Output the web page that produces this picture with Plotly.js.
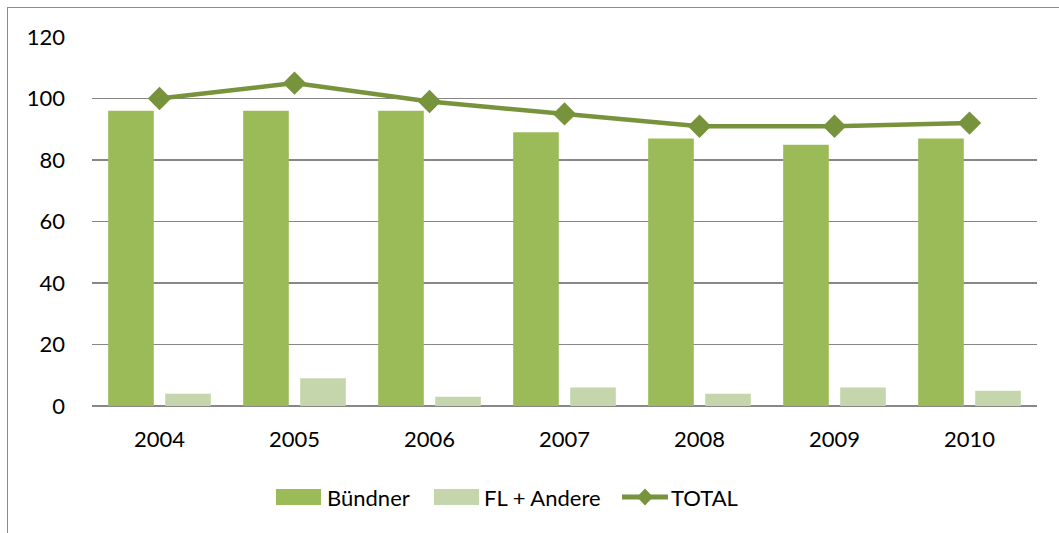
<!DOCTYPE html>
<html>
<head>
<meta charset="utf-8">
<script src="https://cdn.plot.ly/plotly-3.0.1.min.js"></script>
<style>
html,body{margin:0;padding:0;background:#fff;}
#frame{position:absolute;left:7px;top:7px;width:1060px;height:540px;border-left:1.5px solid #8c8c8c;border-top:1.5px solid #8c8c8c;pointer-events:none;z-index:5;}
#chart{width:1059px;height:533px;}
</style>
</head>
<body>
<div id="frame"></div>
<div id="chart"></div>
<script>
const years = ['2004','2005','2006','2007','2008','2009','2010'];
const buendner = [96, 96, 96, 89, 87, 85, 87];
const flAndere = [4, 9, 3, 6, 4, 6, 5];
const total = [100, 105, 99, 95, 91, 91, 92];
const seriesNames = ['Bündner', 'FL + Andere', 'TOTAL'];
const colors = ['#9BBB59', '#C5D6AC', '#77933C'];

const font = {family: 'Lato, "Open Sans", sans-serif', size: 22, color: '#000'};

const data = [
  {type: 'bar', name: seriesNames[0], x: years, y: buendner, marker: {color: colors[0]}},
  {type: 'bar', name: seriesNames[1], x: years, y: flAndere, marker: {color: colors[1]}},
  {type: 'scatter', mode: 'lines+markers', name: seriesNames[2], x: years, y: total,
   line: {color: colors[2], width: 4.5},
   marker: {symbol: 'diamond', size: 18, color: colors[2]}}
];

// manual legend (pixel -> paper conversion relative to plot area)
const L = 92, W = 945, B = 406, H = 369;
const px = v => (v - L) / W;
const py = v => (B - v) / H;
const legY = 497;
const shapes = [
  {type: 'rect', xref: 'paper', yref: 'paper', x0: px(276), x1: px(321), y0: py(505), y1: py(489),
   fillcolor: colors[0], line: {width: 0}},
  {type: 'rect', xref: 'paper', yref: 'paper', x0: px(434), x1: px(479), y0: py(505), y1: py(489),
   fillcolor: colors[1], line: {width: 0}},
  {type: 'line', xref: 'paper', yref: 'paper', x0: px(622), x1: px(668), y0: py(legY), y1: py(legY),
   line: {color: colors[2], width: 5}},
  {type: 'path', xref: 'paper', yref: 'paper',
   path: `M ${px(645)} ${py(legY-8.5)} L ${px(653)} ${py(legY)} L ${px(645)} ${py(legY+8.5)} L ${px(637)} ${py(legY)} Z`,
   fillcolor: colors[2], line: {width: 0}}
];
const annotations = [
  {text: seriesNames[0], x: px(325), y: py(legY), xref: 'paper', yref: 'paper', xanchor: 'left', yanchor: 'middle', showarrow: false, font: font},
  {text: seriesNames[1], x: px(482), y: py(legY), xref: 'paper', yref: 'paper', xanchor: 'left', yanchor: 'middle', showarrow: false, font: font},
  {text: seriesNames[2], x: px(669), y: py(legY), xref: 'paper', yref: 'paper', xanchor: 'left', yanchor: 'middle', showarrow: false, font: font}
];

const layout = {
  width: 1059, height: 533,
  margin: {l: 92, r: 22, t: 37, b: 127},
  paper_bgcolor: '#fff', plot_bgcolor: '#fff',
  font: font,
  barmode: 'group', bargap: 0.155, bargroupgap: 0.2,
  showlegend: false,
  shapes: shapes,
  annotations: annotations,
  xaxis: {type: 'category', showgrid: false, showline: false, ticks: '',
          tickfont: font, ticklabelstandoff: 18, fixedrange: true},
  yaxis: {range: [0, 120], dtick: 20, showgrid: true, gridcolor: '#878787', gridwidth: 1.5,
          zeroline: true, zerolinecolor: '#878787', zerolinewidth: 1.5,
          showline: false, ticks: '', tickfont: font, ticklabelstandoff: 26, fixedrange: true}
};

Plotly.newPlot('chart', data, layout, {displayModeBar: false, staticPlot: true});
</script>
</body>
</html>
